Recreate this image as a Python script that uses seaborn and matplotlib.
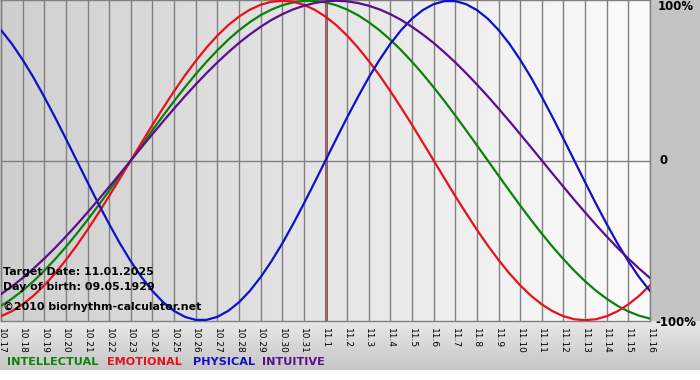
import numpy as np
import pandas as pd
import matplotlib
matplotlib.use("Agg")
import matplotlib.pyplot as plt
from matplotlib.colors import LinearSegmentedColormap
import seaborn as sns

# --- data (value = fraction of 100%) ---
dates = ["10.17", "10.18", "10.19", "10.20", "10.21", "10.22", "10.23", "10.24",
         "10.25", "10.26", "10.27", "10.28", "10.29", "10.30", "10.31", "11.1",
         "11.2", "11.3", "11.4", "11.5", "11.6", "11.7", "11.8", "11.9", "11.10",
         "11.11", "11.12", "11.13", "11.14", "11.15", "11.16"]

# readings every half day, starting at 10.17
step = 0.5

physical = [0.817, 0.731, 0.631, 0.520, 0.398, 0.270, 0.136, 0.000, -0.136, -0.270,
            -0.398, -0.520, -0.631, -0.731, -0.817, -0.888, -0.942, -0.979, -0.998, -0.998,
            -0.979, -0.942, -0.888, -0.817, -0.731, -0.631, -0.520, -0.398, -0.270, -0.136,
            0.000, 0.136, 0.270, 0.398, 0.520, 0.631, 0.731, 0.817, 0.888, 0.942,
            0.979, 0.998, 0.998, 0.979, 0.942, 0.888, 0.817, 0.731, 0.631, 0.520,
            0.398, 0.270, 0.136, 0.000, -0.136, -0.270, -0.398, -0.520, -0.631, -0.731, -0.817]

emotional = [-0.975, -0.944, -0.901, -0.847, -0.782, -0.707, -0.623, -0.532, -0.434, -0.330,
             -0.223, -0.112, 0.000, 0.112, 0.223, 0.330, 0.434, 0.532, 0.623, 0.707,
             0.782, 0.847, 0.901, 0.944, 0.975, 0.994, 1.000, 0.994, 0.975, 0.944,
             0.901, 0.847, 0.782, 0.707, 0.623, 0.532, 0.434, 0.330, 0.223, 0.112,
             0.000, -0.112, -0.223, -0.330, -0.434, -0.532, -0.623, -0.707, -0.782, -0.847,
             -0.901, -0.944, -0.975, -0.994, -1.000, -0.994, -0.975, -0.944, -0.901, -0.847, -0.782]

intellectual = [-0.910, -0.866, -0.815, -0.756, -0.690, -0.618, -0.541, -0.458, -0.372, -0.282,
                -0.189, -0.095, 0.000, 0.095, 0.189, 0.282, 0.372, 0.458, 0.541, 0.618,
                0.690, 0.756, 0.815, 0.866, 0.910, 0.945, 0.972, 0.990, 0.999, 0.999,
                0.990, 0.972, 0.945, 0.910, 0.866, 0.815, 0.756, 0.690, 0.618, 0.541,
                0.458, 0.372, 0.282, 0.189, 0.095, 0.000, -0.095, -0.189, -0.282, -0.372,
                -0.458, -0.541, -0.618, -0.690, -0.756, -0.815, -0.866, -0.910, -0.945, -0.972, -0.990]

intuitive = [-0.837, -0.789, -0.736, -0.677, -0.614, -0.547, -0.476, -0.402, -0.325, -0.246,
             -0.165, -0.083, 0.000, 0.083, 0.165, 0.246, 0.325, 0.402, 0.476, 0.547,
             0.614, 0.677, 0.736, 0.789, 0.837, 0.880, 0.916, 0.946, 0.969, 0.986,
             0.997, 1.000, 0.997, 0.986, 0.969, 0.946, 0.916, 0.880, 0.837, 0.789,
             0.736, 0.677, 0.614, 0.547, 0.476, 0.402, 0.325, 0.246, 0.165, 0.083,
             0.000, -0.083, -0.165, -0.246, -0.325, -0.402, -0.476, -0.547, -0.614, -0.677, -0.736]

rhythms = ["INTELLECTUAL", "EMOTIONAL", "PHYSICAL", "INTUITIVE"]
colors = ["#0a820a", "#e8101a", "#1010c8", "#5a0f8c"]
target_date = "11.1"
info_lines = ["Target Date: 11.01.2025", "Day of birth: 09.05.1929",
              "\u00a92010 biorhythm-calculator.net"]

df = pd.DataFrame({"day": np.arange(len(physical)) * step,
                   "INTELLECTUAL": intellectual, "EMOTIONAL": emotional,
                   "PHYSICAL": physical, "INTUITIVE": intuitive})
df = df.melt(id_vars="day", var_name="rhythm", value_name="value")

sns.set_style("white")
plt.rcParams["font.family"] = ["DejaVu Sans"]
plt.rcParams["text.color"] = "black"

W, H = 700, 380


def box(x0, y0, x1, y1):
    # pixel box (top-left origin) -> figure fraction
    return [x0 / W, 1 - y1 / H, (x1 - x0) / W, (y1 - y0) / H]


fig = plt.figure(figsize=(W / 100, H / 100), dpi=100)
fig.patch.set_facecolor("#c4c4c4")

# bottom strip with vertical gradient, white band at the very bottom
strip = fig.add_axes(box(0, 321, 700, 370))
strip.imshow(np.linspace(0, 1, 128)[:, None], aspect="auto",
             cmap=LinearSegmentedColormap.from_list("s", ["#e8e8e8", "#c6c6c6"]))
strip.axis("off")
white = fig.add_axes(box(0, 370, 700, 380))
white.set_facecolor("white")
white.set_xticks([]); white.set_yticks([])
for s in white.spines.values():
    s.set_visible(False)

ax = fig.add_axes(box(1, 0, 650, 321))
ax.imshow(np.linspace(0, 1, 256)[None, :], aspect="auto", zorder=0,
          extent=[0, len(dates) - 1, -1.005, 1.005],
          cmap=LinearSegmentedColormap.from_list("g", ["#cfcfcf", "#fcfcfc"]))

ax.axvline(dates.index(target_date), color="#8a1c1c", lw=1.8, zorder=2)
ax.axhline(0, color="#808080", lw=1, zorder=1)

sns.lineplot(data=df, x="day", y="value", hue="rhythm", hue_order=rhythms,
             palette=colors, estimator=None, linewidth=1.6, legend=False,
             ax=ax, zorder=3)

ax.set_xlim(0, len(dates) - 1)
ax.set_ylim(-1.005, 1.005)
ax.set_xticks(range(len(dates)))
ax.set_xticklabels(dates, rotation=270, fontsize=6.5, color="black")
ax.set_yticks([])
ax.set_xlabel("")
ax.set_ylabel("")
ax.grid(axis="x", color="#808080", lw=1)
ax.set_axisbelow(False)
ax.tick_params(axis="x", length=4, width=1, color="#808080", pad=1)
for s in ax.spines.values():
    s.set_color("#808080")
    s.set_linewidth(1)

# right-side scale labels
fig.text(658 / W, 1 - 7 / H, "100%", fontsize=8.5, fontweight="bold", va="center")
fig.text(659 / W, 1 - 161 / H, "0", fontsize=8.5, fontweight="bold", va="center")
fig.text(655 / W, 1 - 322 / H, "-100%", fontsize=8.5, fontweight="bold", va="center")

# info text inside plot
for y, t in zip([272, 287, 307], info_lines):
    fig.text(3 / W, 1 - y / H, t, fontsize=7.9, fontweight="bold", va="center")

# coloured legend row
for x, name, c in zip([7, 107, 193, 262], rhythms, colors):
    fig.text(x / W, 1 - 362 / H, name, fontsize=8.1, fontweight="bold",
             color=c, va="center")

fig.savefig("out.png", dpi=100)
